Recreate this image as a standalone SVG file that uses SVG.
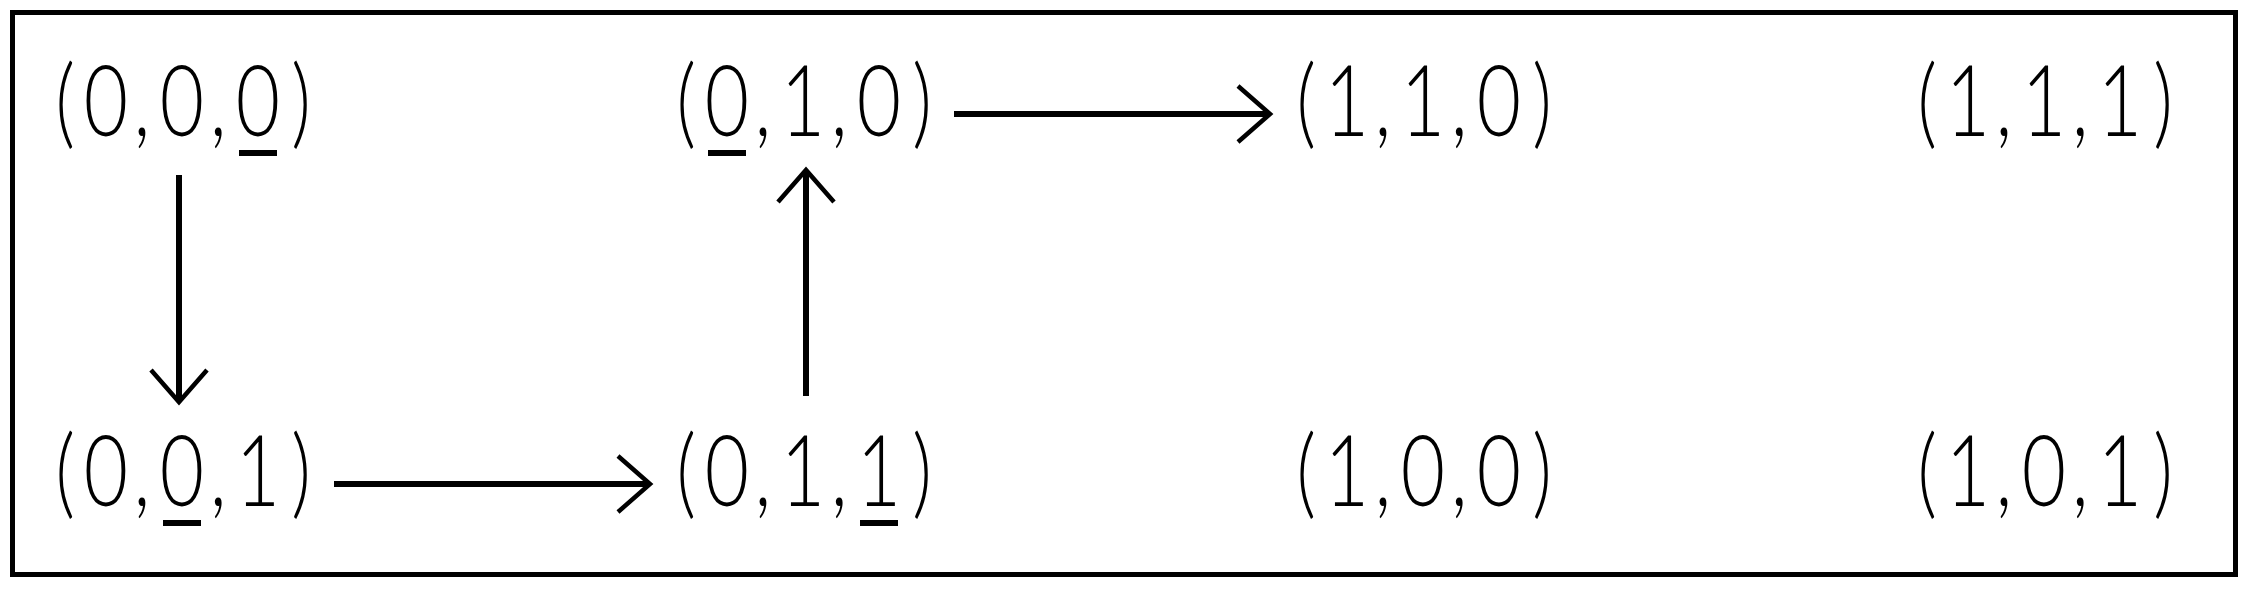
<svg xmlns="http://www.w3.org/2000/svg" width="2248" height="593" viewBox="0 0 2248 593">
<style>
.lbl{font-family:Lato,"Liberation Sans",sans-serif;font-weight:300;font-size:98px;fill:#000;text-anchor:middle}
.ul{stroke:#000;stroke-width:6;fill:none}
.edge{stroke:#000;stroke-width:6;fill:none;marker-end:url(#ah)}
</style>
<defs>
<marker id="ah" markerUnits="userSpaceOnUse" viewBox="-40 -34 46 68" markerWidth="46" markerHeight="68" refX="0" refY="0" orient="auto" overflow="visible">
<path d="M-32,-28 L0,0 L-32,28" fill="none" stroke="#000" stroke-width="4.5"/>
</marker>
</defs>
<rect x="12.5" y="12.5" width="2223" height="562" fill="#fff" stroke="#000" stroke-width="5"/>
<g id="n000"><text class="lbl" transform="translate(182,0) scale(0.78,1)" x="-150 -97.4 -51.3 0 46.2 97.4 152.6" y="136">(0,0,0)</text><line class="ul" x1="239" y1="153" x2="277" y2="153"/></g>
<g id="n010"><text class="lbl" transform="translate(803,0) scale(0.78,1)" x="-150 -97.4 -51.3 0 46.2 97.4 152.6" y="136">(0,1,0)</text><line class="ul" x1="708" y1="153" x2="746" y2="153"/></g>
<g id="n110"><text class="lbl" transform="translate(1423,0) scale(0.78,1)" x="-150 -97.4 -51.3 0 46.2 97.4 152.6" y="136">(1,1,0)</text></g>
<g id="n111"><text class="lbl" transform="translate(2044,0) scale(0.78,1)" x="-150 -97.4 -51.3 0 46.2 97.4 152.6" y="136">(1,1,1)</text></g>
<g id="n001"><text class="lbl" transform="translate(182,0) scale(0.78,1)" x="-150 -97.4 -51.3 0 46.2 97.4 152.6" y="506">(0,0,1)</text><line class="ul" x1="163" y1="523" x2="201" y2="523"/></g>
<g id="n011"><text class="lbl" transform="translate(803,0) scale(0.78,1)" x="-150 -97.4 -51.3 0 46.2 97.4 152.6" y="506">(0,1,1)</text><line class="ul" x1="860" y1="523" x2="898" y2="523"/></g>
<g id="n100"><text class="lbl" transform="translate(1423,0) scale(0.78,1)" x="-150 -97.4 -51.3 0 46.2 97.4 152.6" y="506">(1,0,0)</text></g>
<g id="n101"><text class="lbl" transform="translate(2044,0) scale(0.78,1)" x="-150 -97.4 -51.3 0 46.2 97.4 152.6" y="506">(1,0,1)</text></g>
<g id="connectors">
<line class="edge" x1="179" y1="175" x2="179" y2="402"/>
<line class="edge" x1="334" y1="484" x2="650" y2="484"/>
<line class="edge" x1="806" y1="396" x2="806" y2="170"/>
<line class="edge" x1="954" y1="114" x2="1270" y2="114"/>
</g>
</svg>
